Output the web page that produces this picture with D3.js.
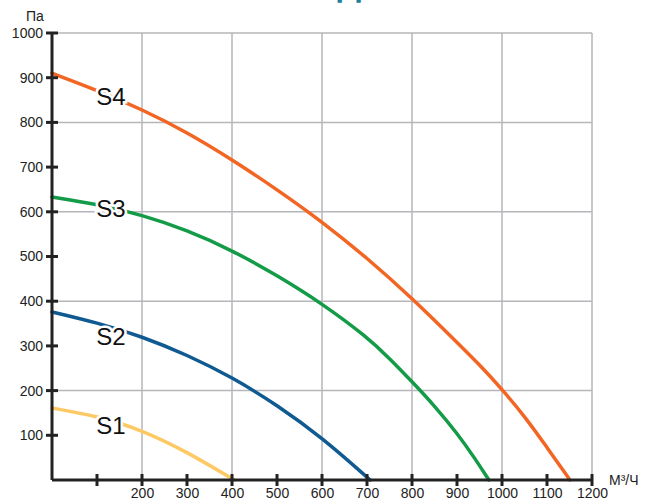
<!DOCTYPE html>
<html><head><meta charset="utf-8">
<script src="https://cdn.jsdelivr.net/npm/d3@7"></script>
<style>html,body{margin:0;padding:0;background:#fff;}svg{display:block;}</style>
</head><body>
<svg id="c" width="646" height="501"></svg>
<script>
const seriesNames = ["S1", "S2", "S3", "S4"];
const seriesColors = ["#fdc964", "#0f5a91", "#149b48", "#f26522"];
const flowS1 = [0, 100, 200, 300, 405];
const presS1 = [161, 143, 112, 63, 0];
const flowS2 = [0, 100, 200, 300, 400, 500, 600, 707];
const presS2 = [376, 352, 321, 280, 230, 168, 95, 0];
const flowS3 = [0, 100, 200, 300, 400, 500, 600, 700, 750, 800, 850, 900, 940, 971];
const presS3 = [633, 617, 593, 559, 514, 458, 395, 320, 272, 220, 166, 105, 48, 0];
const flowS4 = [0, 100, 200, 300, 400, 500, 600, 700, 800, 900, 950, 1000, 1050, 1100, 1151];
const presS4 = [910, 872, 829, 778, 717, 650, 578, 497, 407, 308, 258, 203, 143, 73, 0];
const xTicks = [100, 200, 300, 400, 500, 600, 700, 800, 900, 1000, 1100, 1200];
const xTickLabels = ["", "200", "300", "400", "500", "600", "700", "800", "900", "1000", "1100", "1200"];
const yTicks = [100, 200, 300, 400, 500, 600, 700, 800, 900, 1000];
const gridX = [200, 400, 600, 800, 1000, 1200];
const gridY = [200, 400, 600, 800, 1000];
const labelPos = [[131, 123], [131, 322], [131, 608], [131, 859]];
const titleText = "Д";
const yUnit = "Па";
const xUnit = "М³/Ч";

const svg = d3.select("#c");
const x = d3.scaleLinear().domain([0, 1200]).range([52, 592]);
const y = d3.scaleLinear().domain([0, 1000]).range([480, 33]);
const font = "'Liberation Sans', Arial, sans-serif";

// partial title (cut off at top edge, as in the reference)
svg.append("text").attr("x", 349).attr("y", -2).attr("text-anchor", "middle")
  .attr("font-family", "'DejaVu Sans', sans-serif").attr("font-weight", "bold")
  .attr("font-size", 30).attr("fill", "#1f7f9c").text(titleText);

// grid
const g = svg.append("g").attr("stroke", "#b6b6ba").attr("stroke-width", 1.5);
gridX.forEach(v => g.append("line").attr("x1", x(v)).attr("x2", x(v)).attr("y1", y(0)).attr("y2", y(1000)));
gridY.forEach(v => g.append("line").attr("x1", x(0)).attr("x2", x(1200)).attr("y1", y(v)).attr("y2", y(v)));

// curves
const line = d3.line().x(d => x(d[0])).y(d => y(d[1])).curve(d3.curveBasis);
const flows = [flowS1, flowS2, flowS3, flowS4];
const press = [presS1, presS2, presS3, presS4];
flows.forEach((f, i) => {
  svg.append("path").attr("d", line(f.map((v, j) => [v, press[i][j]])))
    .attr("fill", "none").attr("stroke", seriesColors[i]).attr("stroke-width", 3.5)
    .attr("stroke-linecap", "round");
});

// labels
seriesNames.forEach((n, i) => {
  svg.append("text").attr("x", x(labelPos[i][0])).attr("y", y(labelPos[i][1]))
    .attr("dy", "0.36em").attr("text-anchor", "middle")
    .attr("font-family", font).attr("font-size", 24).attr("fill", "#111")
    .attr("stroke", "#fff").attr("stroke-width", 5).attr("paint-order", "stroke")
    .text(n);
});

// axes
const xAxis = d3.axisBottom(x).tickValues(xTicks).tickSize(0).tickFormat((d, i) => xTickLabels[i]);
const xa = svg.append("g").attr("transform", `translate(0,${y(0)})`).call(xAxis);
xa.select(".domain").remove();
xa.selectAll("text").attr("font-family", font).attr("font-size", 14).attr("fill", "#222").attr("dy", "1.1em");
const yAxis = d3.axisLeft(y).tickValues(yTicks).tickSize(0).tickPadding(9).tickFormat(d3.format("d"));
const ya = svg.append("g").attr("transform", `translate(${x(0)},0)`).call(yAxis);
ya.select(".domain").remove();
ya.selectAll("text").attr("font-family", font).attr("font-size", 14).attr("fill", "#222");

const ax = svg.append("g").attr("stroke", "#222").attr("stroke-width", 3);
ax.append("line").attr("x1", x(0)).attr("x2", x(1200)).attr("y1", y(0)).attr("y2", y(0));
ax.append("line").attr("x1", x(0)).attr("x2", x(0)).attr("y1", y(0)).attr("y2", y(1000));
xTicks.forEach(v => ax.append("line").attr("x1", x(v)).attr("x2", x(v)).attr("y1", y(0) - 6).attr("y2", y(0) + 6));
yTicks.forEach(v => ax.append("line").attr("x1", x(0) - 6).attr("x2", x(0) + 6).attr("y1", y(v)).attr("y2", y(v)));

svg.append("text").attr("x", 26).attr("y", 21).attr("font-family", font).attr("font-size", 14).attr("fill", "#222").text(yUnit);
svg.append("text").attr("x", 609).attr("y", 485).attr("font-family", font).attr("font-size", 14).attr("fill", "#222").text(xUnit);
</script>
</body></html>
